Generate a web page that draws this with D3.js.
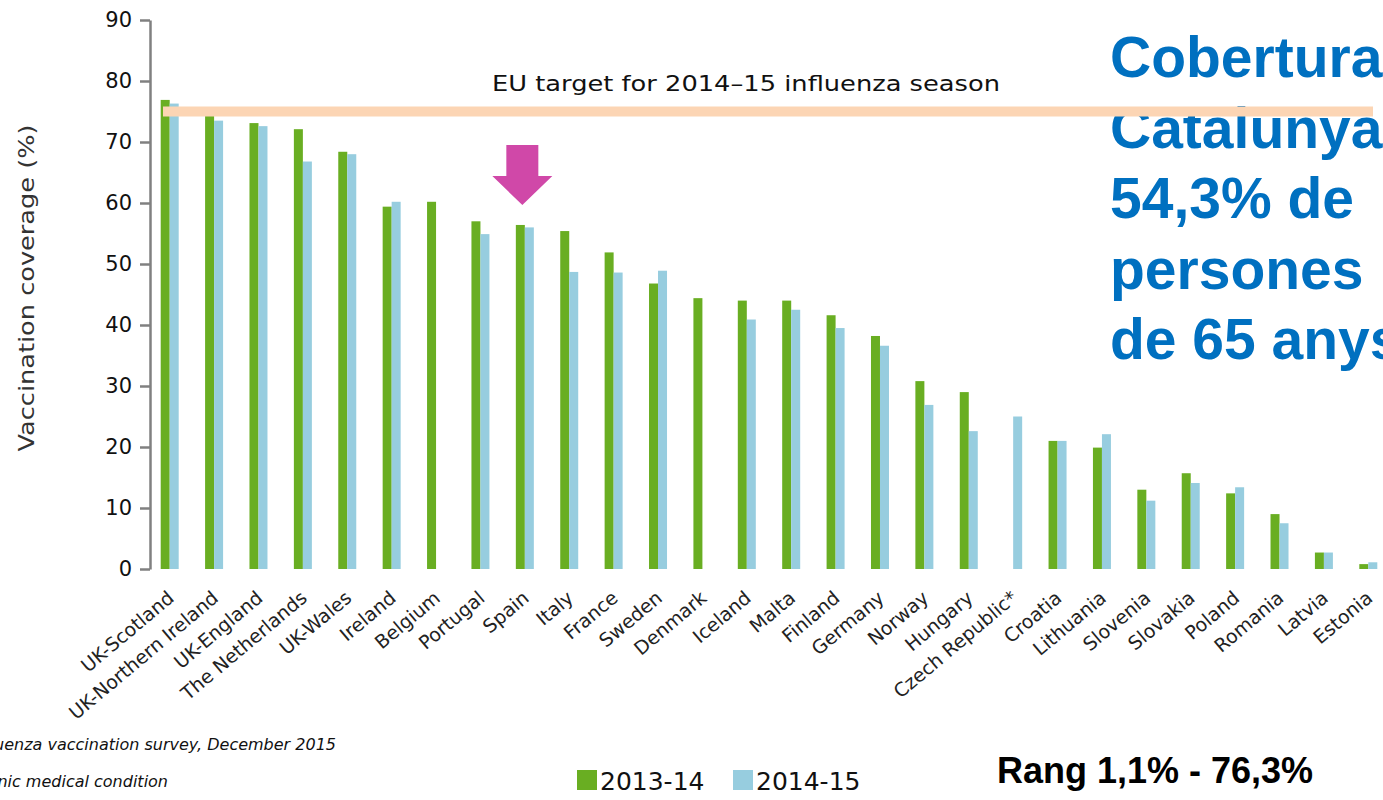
<!DOCTYPE html>
<html>
<head>
<meta charset="utf-8">
<script src="https://cdn.jsdelivr.net/npm/d3@7"></script>
<style>
  html, body { margin: 0; padding: 0; background: #fff; overflow: hidden; }
  svg { display: block; }
</style>
</head>
<body>
<script>
// vaccination coverage chart, 2013-14 vs 2014-15
const width = 1383;
const height = 800;

const countries = ['UK-Scotland', 'UK-Northern Ireland', 'UK-England', 'The Netherlands', 'UK-Wales',
  'Ireland', 'Belgium', 'Portugal', 'Spain', 'Italy', 'France', 'Sweden', 'Denmark', 'Iceland',
  'Malta', 'Finland', 'Germany', 'Norway', 'Hungary', 'Czech Republic*', 'Croatia', 'Lithuania',
  'Slovenia', 'Slovakia', 'Poland', 'Romania', 'Latvia', 'Estonia'];

const season1314 = [76.9, 75.0, 73.1, 72.1, 68.4, 59.4, 60.2, 57.0, 56.4, 55.4, 51.9, 46.8, 44.4, 44.0,
  44.0, 41.6, 38.2, 30.8, 29.0, null, 21.0, 19.9, 13.0, 15.7, 12.4, 9.0, 2.7, 0.8];
const season1415 = [76.3, 73.5, 72.6, 66.8, 68.0, 60.2, null, 54.9, 56.0, 48.7, 48.6, 48.9, null, 40.9,
  42.5, 39.5, 36.6, 26.9, 22.6, 25.0, 21.0, 22.1, 11.2, 14.1, 13.4, 7.5, 2.7, 1.1];

const seasons = ['2013-14', '2014-15'];
const yTicks = [0, 10, 20, 30, 40, 50, 60, 70, 80, 90];
const euTarget = 75;
const targetLabel = 'EU target for 2014\u201315 influenza season';
const sideText = ['Cobertura a', 'Catalunya:', '54,3% de', 'persones', 'de 65 anys'];
const rangeText = 'Rang 1,1% - 76,3%';
const footnotes = ['Source: ECDC influenza vaccination survey, December 2015',
  '* People with a chronic medical condition'];

const color = d3.scaleOrdinal().domain(seasons).range(['#69ae22', '#97cddf']);

const svg = d3.select('body').append('svg')
  .attr('width', width)
  .attr('height', height);

// scales
const x = d3.scaleBand().domain(countries).range([147, 1390]).padding(0);
const x1 = d3.scaleBand().domain(seasons).range([-8.5, 9.5]);
const y = d3.scaleLinear().domain([0, 90]).range([569, 20]);

const rows = countries.map((c, i) => ({ country: c, values: [season1314[i], season1415[i]] }));

// right hand text (drawn first, target line goes over it)
svg.append('g')
  .selectAll('text')
  .data(sideText)
  .join('text')
    .attr('x', 1110)
    .attr('y', (d, i) => 77 + i * 70.5)
    .attr('font-family', 'Liberation Sans, Arial, sans-serif')
    .attr('font-weight', 'bold')
    .attr('font-size', 57)
    .attr('fill', '#0070c0')
    .text(d => d);

// bars
const groups = svg.append('g')
  .selectAll('g')
  .data(rows)
  .join('g')
    .attr('transform', d => `translate(${x(d.country) + x.bandwidth() / 2},0)`);

groups.selectAll('rect')
  .data(d => seasons.map((s, k) => ({ season: s, value: d.values[k] })).filter(v => v.value != null))
  .join('rect')
    .attr('x', d => x1(d.season))
    .attr('width', x1.bandwidth())
    .attr('y', d => y(d.value))
    .attr('height', d => y(0) - y(d.value))
    .attr('fill', d => color(d.season));

// y axis
const gy = svg.append('g')
  .attr('transform', 'translate(150,0)')
  .call(d3.axisLeft(y).tickValues(yTicks).tickSize(10).tickPadding(8).tickSizeOuter(0));
gy.select('.domain').attr('stroke', '#808080').attr('stroke-width', 2.5);
gy.selectAll('.tick line').attr('stroke', '#808080').attr('stroke-width', 2.5);
gy.selectAll('.tick text')
  .attr('font-family', 'DejaVu Sans, Verdana, sans-serif')
  .attr('font-size', 21)
  .attr('fill', '#111');

svg.append('text')
  .attr('transform', 'translate(34,288) rotate(-90)')
  .attr('text-anchor', 'middle')
  .attr('font-family', 'DejaVu Sans, Verdana, sans-serif')
  .attr('font-size', 22)
  .attr('textLength', 327)
  .attr('lengthAdjust', 'spacingAndGlyphs')
  .attr('fill', '#333')
  .text('Vaccination coverage (%)');

// x labels
svg.append('g')
  .selectAll('text')
  .data(countries)
  .join('text')
    .attr('transform', d => `translate(${x(d) + x.bandwidth() / 2 + 6},600) rotate(-40)`)
    .attr('text-anchor', 'end')
    .attr('font-family', 'DejaVu Sans, Verdana, sans-serif')
    .attr('font-size', 19)
    .attr('fill', '#222')
    .text(d => d);

// EU target line
svg.append('line')
  .attr('x1', 163)
  .attr('x2', 1373)
  .attr('y1', y(euTarget))
  .attr('y2', y(euTarget))
  .attr('stroke', '#fcd5b4')
  .attr('stroke-width', 10);

svg.append('text')
  .attr('x', 492)
  .attr('y', 91)
  .attr('font-family', 'DejaVu Sans, Verdana, sans-serif')
  .attr('font-size', 22)
  .attr('textLength', 508)
  .attr('lengthAdjust', 'spacingAndGlyphs')
  .attr('fill', '#111')
  .text(targetLabel);

// arrow pointing at Spain
const ax = x('Spain') + x.bandwidth() / 2 - 2;
svg.append('path')
  .attr('d', d3.line()([[ax - 16, 145], [ax + 16, 145], [ax + 16, 176], [ax + 30, 176],
    [ax, 205], [ax - 30, 176], [ax - 16, 176]]) + 'Z')
  .attr('fill', '#d048a8');

// legend
const legend = svg.append('g')
  .selectAll('g')
  .data(seasons)
  .join('g')
    .attr('transform', (d, i) => `translate(${577 + i * 156},770)`);
legend.append('rect')
  .attr('width', 20)
  .attr('height', 20)
  .attr('fill', d => color(d));
legend.append('text')
  .attr('x', 23)
  .attr('y', 20)
  .attr('font-family', 'DejaVu Sans, Verdana, sans-serif')
  .attr('font-size', 25)
  .attr('fill', '#111')
  .text(d => d);

// range note
svg.append('text')
  .attr('x', 997)
  .attr('y', 783)
  .attr('font-family', 'Liberation Sans, Arial, sans-serif')
  .attr('font-weight', 'bold')
  .attr('font-size', 36)
  .attr('fill', '#000')
  .text(rangeText);

// footnotes, cut off at the left edge
svg.append('g')
  .selectAll('text')
  .data(footnotes)
  .join('text')
    .attr('x', (d, i) => i === 0 ? 336 : 168)
    .attr('y', (d, i) => 750 + i * 37)
    .attr('text-anchor', 'end')
    .attr('font-family', 'DejaVu Sans, Verdana, sans-serif')
    .attr('font-style', 'italic')
    .attr('font-size', 16)
    .attr('fill', '#111')
    .text(d => d);
</script>
</body>
</html>
